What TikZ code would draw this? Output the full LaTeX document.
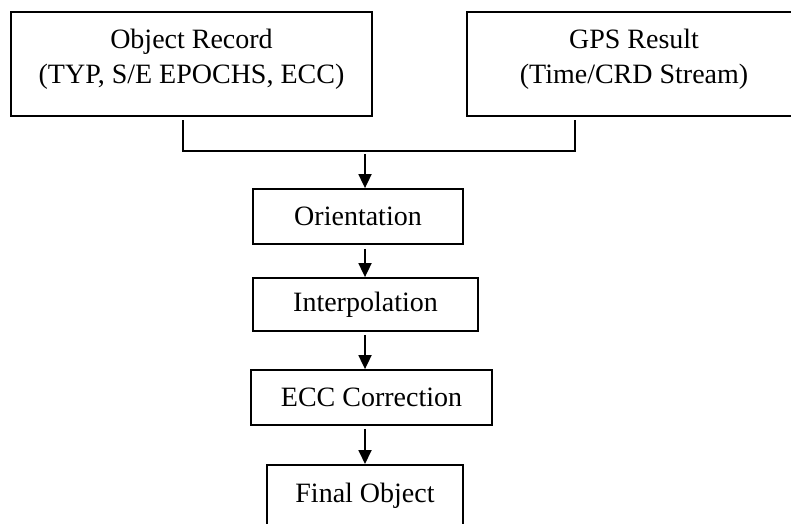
\documentclass[tikz,border=0pt]{standalone}
\usepackage{fontspec}
\setmainfont{Liberation Serif}
\usetikzlibrary{arrows.meta,calc}
\begin{document}
\begin{tikzpicture}[x=1pt,y=-1pt,
  box/.style={draw=black,line width=1.8pt,rectangle,inner sep=0pt,
    font=\fontsize{28}{35}\selectfont,align=center},
  wire/.style={draw=black,line width=1.8pt},
  arr/.style={draw=black,line width=1.8pt,-{Triangle[width=13pt,length=14pt]}}]
\useasboundingbox (0,0) rectangle (791,523);
\clip (0,0) rectangle (791,523);
\fill[white] (0,0) rectangle (791,523);
\node[box,minimum width=361pt,minimum height=104pt,text depth=16pt] (obj) at (191.5,64) {Object Record\\(TYP, S/E EPOCHS, ECC)};
\node[box,minimum width=334pt,minimum height=104pt,text depth=16pt] (gps) at (634,64) {GPS Result\\(Time/CRD Stream)};
\node[box,minimum width=210pt,minimum height=55pt] (ori) at (358,216.5) {Orientation};
\node[box,minimum width=225pt,minimum height=53pt] (int) at (365.5,304.5) {Interpolation};
\node[box,minimum width=241pt,minimum height=55pt] (ecc) at (371.5,397.5) {ECC Correction};
\node[box,minimum width=196pt,text height=38pt,text depth=40pt,anchor=north] (fin) at (365,464) {Final Object};
\coordinate (j1) at (183,120);
\coordinate (j2) at (183,151);
\coordinate (j3) at (575,151);
\coordinate (j4) at (575,120);
\draw[wire] (j1) -- (j2) -- (j3) -- (j4);
\coordinate (a1) at (365,154);
\draw[arr] (a1) -- (a1 |- ori.north);
\draw[arr] ($(a1 |- ori.south)+(0,4)$) -- (a1 |- int.north);
\draw[arr] ($(a1 |- int.south)+(0,3)$) -- (a1 |- ecc.north);
\draw[arr] ($(a1 |- ecc.south)+(0,3)$) -- (a1 |- fin.north);
\end{tikzpicture}
\end{document}
